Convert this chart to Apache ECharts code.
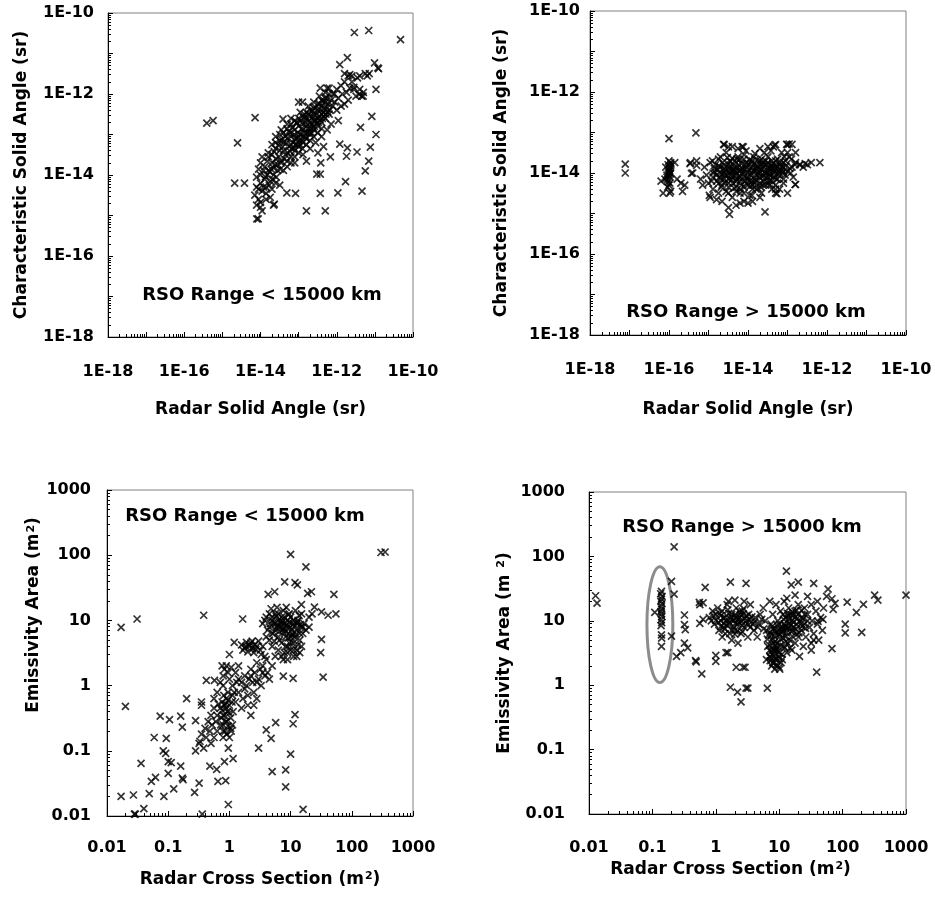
<!DOCTYPE html>
<html><head><meta charset="utf-8">
<script src="https://cdn.jsdelivr.net/npm/echarts@6/dist/echarts.min.js"></script>
<style>html,body{margin:0;padding:0;background:#fff}#c{width:935px;height:897px}</style>
</head><body><div id="c"></div>
<script>
// ---------------- tick labels ----------------
const solidTickLabels = ['1E-18', '1E-16', '1E-14', '1E-12', '1E-10'];
const areaTickLabels = ['0.01', '0.1', '1', '10', '100', '1000'];

// ---------------- titles ----------------
const solidXTitle = 'Radar Solid Angle (sr)';
const solidYTitle = 'Characteristic Solid Angle (sr)';
const areaXTitle = 'Radar Cross Section (m{sup|2})';
const areaYTitleNear = 'Emissivity Area (m{sup|2})';
const areaYTitleFar = 'Emissivity Area (m {sup|2})';
const nearLabel = 'RSO Range < 15000 km';
const farLabel = 'RSO Range > 15000 km';

// ---------------- data: [radar, characteristic] solid angle (sr), range < 15000 km ----------------
const nearSolid = [
[7.1e-15,3.2e-15],[7.9e-15,5e-15],[8.9e-15,2.5e-15],[1e-14,6.3e-15],[7.9e-15,8.9e-15],[1.1e-14,4e-15],[1.3e-14,7.9e-15],[1.4e-14,5e-15],
[1.6e-14,1.3e-14],[1.3e-14,1.6e-14],[1e-14,2e-14],[8.9e-15,1.4e-14],[1.8e-14,7.1e-15],[2e-14,4.5e-15],[2.2e-14,1e-14],[2.5e-14,6.3e-15],
[3.2e-14,5.6e-15],[2.8e-14,1.3e-14],[2e-14,2e-14],[1.6e-14,2.8e-14],[1.1e-14,2.8e-14],[7.9e-15,1.8e-15],[1e-14,1.6e-15],[1.4e-14,2.5e-15],
[1.8e-14,2.8e-15],[1.1e-14,1.3e-15],[1e-14,2.1e-15],
[2.5e-14,2.5e-14],[3.2e-14,4e-14],[3.5e-14,2e-14],[4e-14,6.3e-14],[4.5e-14,3.2e-14],[5e-14,1.6e-14],[5.6e-14,5e-14],[6.3e-14,8.9e-14],
[6.3e-14,2.8e-14],[7.1e-14,6.3e-14],[7.9e-14,1.3e-13],[7.9e-14,4e-14],[8.9e-14,7.9e-14],[1e-13,1.6e-13],[1e-13,5e-14],[1.1e-13,1e-13],
[1.3e-13,1.8e-13],[1.3e-13,6.3e-14],[1.4e-13,1.1e-13],[1.6e-13,2.5e-13],[1.6e-13,7.9e-14],[1.8e-13,1.4e-13],[2e-13,2.8e-13],[2e-13,1e-13],
[2.2e-13,1.8e-13],[2.5e-13,3.2e-13],[2.5e-13,1.3e-13],[2.8e-13,2.2e-13],[3.2e-13,4e-13],[3.2e-13,1.6e-13],[3.5e-13,2.8e-13],[4e-13,5e-13],
[4e-13,2e-13],[4.5e-13,3.5e-13],[5e-13,6.3e-13],[5e-13,2.5e-13],[5.6e-13,4.5e-13],[6.3e-13,3.2e-13],[7.1e-13,7.1e-13],[7.9e-13,5e-13],
[5e-14,1.8e-13],[6.3e-14,2.5e-13],[1.1e-13,3.5e-13],[1.8e-13,5e-13],[3.5e-14,1.3e-13],[2.5e-14,8.9e-14],[2e-14,5.6e-14],[2.5e-13,6.3e-13],
[3.5e-13,8.9e-13],[5e-13,1.1e-12],[7.9e-14,2e-14],[1.3e-13,3.2e-14],[2e-13,4.5e-14],[2.8e-13,6.3e-14],[4e-13,8.9e-14],[5.6e-13,1.3e-13],
[3.2e-13,3.5e-14],[4.5e-13,5e-14],[7.1e-13,1.8e-13],[1.6e-13,2.2e-14],[1e-13,8.9e-14],[1.3e-13,1.3e-13],[1.6e-13,1.6e-13],[2e-13,2e-13],
[2.5e-13,2.2e-13],[7.9e-14,7.9e-14],[6.3e-14,5.6e-14],[5e-14,7.9e-14],[4e-14,4e-14],[3.2e-13,2.5e-13],[4e-13,3.2e-13],[2.2e-13,1.1e-13],
[1.1e-13,5.6e-14],[8.9e-14,2e-13],[1.4e-13,3.2e-13],[3.9e-14,2.4e-13],[1e-13,6.3e-13],[1.26e-13,6.3e-13],[3.7e-13,1.4e-12],[5.6e-13,1.4e-12],
[7.9e-13,1e-12],[1e-12,1.3e-12],[8.9e-13,6.3e-13],[1.1e-12,7.9e-13],[1.3e-12,1.6e-12],[1.4e-12,1e-12],[1.6e-12,2e-12],[1.8e-12,1.1e-12],
[2e-12,7.1e-13],[2.2e-12,1.4e-12],[2.5e-12,2e-12],[2.8e-12,1.3e-12],[1.3e-12,5e-13],[1e-12,4e-13],[1.6e-12,5.6e-13],[6.3e-13,1.4e-12],
[2e-12,2.8e-12],[2.5e-12,2.8e-12],[4e-12,1.3e-12],[4.5e-12,8.9e-13],[5e-12,1.1e-12],[3.5e-12,2.5e-12],[5.6e-12,3.2e-12],[7.1e-12,3.2e-12],
[3.9e-16,1.9e-13],[5.7e-16,2.2e-13],[2.5e-15,6.2e-14],[2.1e-15,6.3e-15],[3.8e-15,6.3e-15],[7.2e-15,2.6e-13],[8e-15,8.3e-16],[8.7e-15,8.3e-16],
[2.9e-12,3.3e-11],[6.9e-12,3.7e-11],[4.7e-11,2.2e-11],[1.9e-12,7.9e-12],[1.2e-12,5.3e-12],[9.8e-12,5.9e-12],[1.2e-11,4.4e-12],[1.25e-11,4.2e-12],
[6.3e-12,2.8e-12],[4e-12,2.8e-12],[1.6e-12,3.2e-12],[2.2e-12,3e-12],[1.07e-11,1.3e-12],[8.3e-12,2.8e-13],[4.2e-12,1.5e-13],[1.07e-11,1e-13],
[7.6e-12,4.9e-14],[6.9e-12,2.2e-14],[5.6e-12,1.26e-14],[4.6e-12,4e-15],[3.4e-12,3.7e-14],[1.9e-12,4.7e-14],[1.8e-12,2.9e-14],[1.2e-12,5.8e-14],
[1.7e-12,6.9e-15],[1.07e-12,3.6e-15],[3.7e-13,1.05e-14],[3e-13,1.05e-14],[3.7e-13,3.5e-15],[5e-13,1.3e-15],[1.6e-13,1.3e-15],[8.3e-14,3.5e-15],
[4.9e-14,3.6e-15],[2.3e-14,1.9e-15],[2.2e-14,1.8e-15],[6.8e-13,2.8e-14],[3.8e-13,2e-14],[3.2e-12,8.9e-13],[3.9e-12,9.8e-13],[4.9e-12,8.9e-13],
[2.8e-12,1.45e-12],[8.7e-13,1e-12],[1.1e-12,2.2e-13]
];
const nearSolidCore = [
[1.6e-14,3.5e-14],[1.5e-14,1e-14],[1.7e-14,5.6e-15],[2e-14,3.2e-14],[1.9e-14,1.4e-14],[2.1e-14,7.9e-15],
[2.5e-14,4.5e-14],[2.4e-14,1.8e-14],[2.6e-14,8.9e-15],[2.5e-14,6.3e-14],[3.2e-14,7.1e-14],[3e-14,2.8e-14],[3.3e-14,1.4e-14],[3.2e-14,1e-13],
[4e-14,1.1e-13],[3.8e-14,5e-14],[4.2e-14,2.5e-14],[4e-14,1.3e-14],[5e-14,1.4e-13],[4.8e-14,6.3e-14],[5.2e-14,3.5e-14],[5e-14,2.2e-14],
[6.3e-14,1.8e-13],[6e-14,1.1e-13],[6.6e-14,4.5e-14],[6.3e-14,2e-14],[7.9e-14,2.2e-13],[7.6e-14,1e-13],[8.3e-14,5.6e-14],[7.9e-14,2.8e-14],
[1e-13,2.5e-13],[9.5e-14,1.1e-13],[1.05e-13,7.1e-14],[1e-13,3.5e-14],[1.26e-13,2.8e-13],[1.2e-13,1.4e-13],[1.3e-13,8.9e-14],[1.26e-13,4.5e-14],
[1.6e-13,3.5e-13],[1.5e-13,2e-13],[1.7e-13,1.1e-13],[1.6e-13,5.6e-14],[2e-13,4e-13],[1.9e-13,2.2e-13],[2.1e-13,1.4e-13],[2e-13,7.1e-14],
[2.5e-13,4.5e-13],[2.4e-13,2.8e-13],[2.6e-13,1.6e-13],[2.5e-13,8.9e-14],[3.2e-13,5.6e-13],[3e-13,3.2e-13],[3.3e-13,2e-13],[3.2e-13,1.1e-13],
[4e-13,7.1e-13],[3.8e-13,4e-13],[4.2e-13,2.5e-13],[4e-13,1.4e-13],[5e-13,7.9e-13],[4.8e-13,4.5e-13],[5.2e-13,3.2e-13],
[6.3e-13,1e-12],[6e-13,5.6e-13],[6.6e-13,4e-13],[1e-14,1e-14],[1.2e-14,5e-15],[8.9e-15,4.5e-15],[1.4e-14,3.5e-15],
[4.5e-14,9e-14],[5.5e-14,1.2e-13],[7e-14,1.5e-13],[9e-14,1.9e-13],[1.15e-13,2.2e-13],[1.4e-13,2.6e-13],[1.8e-13,3.2e-13],[2.3e-13,3.8e-13],
[2.8e-13,4.6e-13],[3.5e-13,5.8e-13],[4.4e-13,6.5e-13],[5.5e-13,8e-13],[6e-14,3.8e-14],[7.5e-14,4.6e-14],[9.5e-14,5.5e-14],[1.2e-13,7e-14],
[1.5e-13,8.5e-14],[1.9e-13,1.15e-13],[2.4e-13,1.5e-13],[3e-13,1.9e-13],[3.7e-13,2.3e-13],[4.6e-13,2.8e-13],[5.8e-13,3.6e-13],[3.5e-14,2.2e-14],
[2.8e-14,1.8e-14],[2.2e-14,1.5e-14],[1.75e-14,1.2e-14],[1.35e-14,9e-15],[1.2e-14,1.3e-14],[1.5e-14,2.2e-14],[2.3e-14,3.8e-14],[2.9e-14,5.5e-14],
[3.6e-14,7.5e-14]
];

// ---------------- data: solid angle, range > 15000 km ----------------
const farSolid = [
[7.9e-16,1.4e-14],[8.9e-16,8.9e-15],[1e-15,5.6e-15],[1.1e-15,1.8e-14],[1.3e-15,7.9e-15],[1.3e-15,4e-15],[1.4e-15,1.3e-14],[1.6e-15,6.3e-15],
[1.8e-15,2.2e-14],[1.8e-15,3.2e-15],[2e-15,1e-14],[2.2e-15,5e-15],[2.5e-15,1.6e-14],[2.5e-15,7.1e-15],[2.8e-15,3.2e-14],[2.8e-15,3.5e-15],
[3.2e-15,1.1e-14],[3.2e-15,5.6e-15],[3.5e-15,2e-14],[4e-15,7.9e-15],[4e-15,2.5e-15],[4.5e-15,1.4e-14],[5e-15,4.5e-15],[5e-15,1e-14],
[5.6e-15,2.5e-14],[6.3e-15,6.3e-15],[6.3e-15,3.2e-15],[7.1e-15,1.3e-14],[7.9e-15,7.9e-15],[7.9e-15,2e-15],[8.9e-15,1.8e-14],[1e-14,5e-15],
[1e-14,1e-14],[1.1e-14,2.8e-15],[1.3e-14,1.4e-14],[1.3e-14,6.3e-15],[1.4e-14,2.5e-14],[1.6e-14,8.9e-15],[1.6e-14,4e-15],[1.8e-14,1.3e-14],
[2e-14,5.6e-15],[2e-14,2e-14],[2.2e-14,3.2e-15],[2.5e-14,8.9e-15],[2.5e-14,1.4e-14],[2.8e-14,5e-15],[3.2e-14,1.8e-14],[3.2e-14,7.9e-15],
[3.5e-14,1.1e-14],[4e-14,2e-14],[4e-14,6.3e-15],[4.5e-14,1e-14],[5e-14,1.6e-14],[5e-14,5e-15],[5.6e-14,2.2e-14],[6.3e-14,1e-14],
[7.1e-14,1.4e-14],[7.9e-14,7.1e-15],[8.9e-14,2e-14],[1e-13,1.1e-14],[1.1e-13,2.5e-14],[1.3e-13,1.4e-14],[1.4e-13,7.9e-15],[1.6e-13,1.8e-14],
[2e-13,1.6e-14],[2.5e-13,1.4e-14],[3.2e-13,1.6e-14],[4e-13,1.8e-14],
[2.5e-15,1e-14],[4e-15,1.1e-14],[6.3e-15,1.1e-14],[1e-14,7.1e-15],[1.6e-14,6.3e-15],[5e-15,6.3e-15],[7.9e-15,4.5e-15],[1.3e-14,4e-15],
[3.2e-15,4.5e-15],[2e-15,7.1e-15],[2e-14,1e-14],[2.5e-14,6.3e-15],
[2.5e-15,5e-14],[4e-15,4.5e-14],[5.6e-15,4e-14],[8.9e-15,3.5e-14],[7.1e-15,4.5e-14],[3.2e-14,4.5e-14],[5e-14,5e-14],[1e-13,5e-14],
[1.1e-13,5.2e-14],[7.1e-14,3.2e-14],[1e-13,3.2e-14],[1.6e-13,3.2e-14],
[3.2e-15,1.4e-15],[3.4e-15,9.5e-16],[5e-15,1.6e-15],[6.3e-15,1.8e-15],[1e-14,1.8e-15],[1.3e-14,2e-15],[2.7e-14,1.1e-15],[1.6e-15,2.2e-15],
[1.1e-15,2.5e-15],[2.2e-15,2e-15],[4e-14,4e-15],[5e-14,3.2e-15],[7.9e-14,5.6e-15],[1e-13,3.2e-15],[1.6e-13,5.2e-15],[6.3e-14,4e-15],
[5e-16,2e-14],[3.5e-16,1.8e-14],[4e-16,1e-14],[4.8e-16,9.8e-14],[6.3e-16,7.1e-15],[7.1e-16,5e-15],
[6.3e-17,6.3e-15],[7.9e-17,7.1e-15],[8.9e-17,8.9e-15],[1e-16,1.05e-14],[1.05e-16,1.3e-14],[9.5e-17,1.6e-14],[1.1e-16,1.8e-14],[8.3e-17,1.4e-14],
[1.05e-16,5.6e-15],[9.3e-17,4.5e-15],[7.1e-17,3.2e-15],[1.05e-16,3.2e-15],[1.1e-16,3.5e-15],[1.4e-16,1.8e-14],[1.6e-16,7.1e-15],[2e-16,5.6e-15],
[2.5e-16,5e-15],[2.2e-16,3.5e-15],[1e-16,7.1e-14],[8.9e-17,7.9e-15],[1.1e-16,1e-14],[1e-16,2e-14],
[7.8e-18,1.66e-14],[7.8e-18,1e-14],
[9.5e-14,5.1e-14],[1.3e-13,5.1e-14],[4.4e-14,4.4e-14],[4.7e-14,4.9e-14],[6.6e-13,1.8e-14],[2.8e-13,1.7e-14],[2.1e-13,1.6e-14],[1.55e-13,1.6e-14],
[1.55e-13,5.2e-15],[8.7e-14,8.9e-15],[5.4e-14,3.1e-15],[7.6e-15,4.4e-14],[2.4e-15,5.1e-14],[3.2e-15,4.4e-14],[1.05e-15,2.8e-15],[5e-16,1.55e-14],
[3.4e-16,1.7e-14],[3.7e-16,9.8e-15],[4e-14,1.26e-14],[6.3e-14,1.8e-14],[7.9e-14,1.1e-14],[1.26e-13,2.2e-14],[5.6e-14,7.1e-15],[3.5e-14,5e-15]
];
const farSolidCore = [
[1.26e-15,2e-14],[1.3e-15,1e-14],[1.2e-15,6.3e-15],[2e-15,1.4e-14],[1.9e-15,7.9e-15],[2.1e-15,4.5e-15],[2e-15,2.5e-14],
[3.2e-15,1.6e-14],[3e-15,8.9e-15],[3.3e-15,7.1e-15],[3.2e-15,3.2e-15],[5e-15,1.8e-14],[4.8e-15,1.1e-14],[5.2e-15,7.1e-15],[5e-15,3.5e-15],
[7.9e-15,2.2e-14],[7.6e-15,1.1e-14],[8.3e-15,6.3e-15],[7.9e-15,3.2e-15],[1.26e-14,2e-14],[1.2e-14,1e-14],[1.3e-14,5e-15],[1.26e-14,2.8e-15],
[2e-14,1.6e-14],[1.9e-14,7.9e-15],[2.1e-14,4.5e-15],[2e-14,2.5e-15],[3.2e-14,1.4e-14],[3e-14,1e-14],[3.3e-14,5.6e-15],[3.2e-14,2.5e-14],
[5e-14,2e-14],[4.8e-14,1.1e-14],[5.2e-14,7.1e-15],[5e-14,4e-15],[7.9e-14,1.8e-14],[7.6e-14,1e-14],[8.3e-14,2.5e-14],
[1e-16,1.2e-14],[1.05e-16,8e-15],[9.5e-17,6e-15],[1.1e-16,1.5e-14],[1e-16,9e-15],
[1.5e-15,1.6e-14],[1.6e-15,9e-15],[1.7e-15,1.2e-14],[2.3e-15,1.8e-14],[2.4e-15,1.3e-14],[2.6e-15,6e-15],[3.6e-15,1.5e-14],[3.8e-15,9.5e-15],
[4.2e-15,1.25e-14],[4.3e-15,5.5e-15],[5.8e-15,1.6e-14],[6e-15,8.5e-15],[6.5e-15,1.2e-14],[6.8e-15,5e-15],[9e-15,1.5e-14],[9.5e-15,8e-15],
[1.05e-14,1.2e-14],[1.1e-14,6.5e-15],[1.45e-14,1.7e-14],[1.5e-14,1.1e-14],[1.55e-14,7e-15],[1.7e-14,1.5e-14],[2.2e-14,1.2e-14],[2.3e-14,8e-15],
[2.4e-14,1.8e-14],[2.7e-14,1.05e-14],[2.9e-14,1.6e-14],[3.6e-14,1.3e-14],[3.8e-14,8.5e-15],[4.2e-14,1.7e-14],[4.5e-14,1.2e-14],[5.5e-14,1.4e-14],
[5.8e-14,9e-15],[6.5e-14,1.6e-14],[7e-14,1.2e-14],[9e-14,1.5e-14],[1.15e-13,1.3e-14],[1.2e-13,1e-14],[2.2e-14,2.2e-14],[1.1e-14,2.1e-14],
[6e-15,2.1e-14],[4e-15,2.3e-14],[3e-15,2.4e-14],[1.5e-14,3e-14],[8e-15,2.8e-14],[2.6e-14,3.2e-14],[3.8e-14,3.5e-14],[2e-14,4e-14],
[1.02e-16,1.1e-14],[9.8e-17,1.35e-14],[1.08e-16,9.5e-15],[9.2e-17,7e-15],[1.12e-16,1.65e-14],[1e-16,5e-15],
[1.4e-15,1.1e-14],[1.8e-15,1.5e-14],[2.2e-15,9.5e-15],[2.7e-15,1.2e-14],[3.4e-15,1.3e-14],[3.9e-15,6.8e-15],[4.6e-15,8.8e-15],[5.4e-15,1.35e-14],
[6.1e-15,7.5e-15],[7.2e-15,9.5e-15],[8.5e-15,1.25e-14],[9.8e-15,1.6e-14],[1.15e-14,9e-15],[1.35e-14,1.15e-14],[1.6e-14,1.3e-14],[1.85e-14,9.5e-15],
[2.1e-14,1.25e-14],[2.5e-14,1.6e-14],[2.8e-14,7.5e-15],[3.4e-14,9.2e-15],[4e-14,1.5e-14],[4.8e-14,1.3e-14],[6e-14,1.1e-14],[7.5e-14,1.4e-14],
[3.6e-15,1.9e-14],[5.2e-15,2.2e-14],[7e-15,1.7e-14],[1.2e-14,1.75e-14],[1.7e-14,2.1e-14],[2.8e-14,2e-14],[4.5e-15,4.2e-15],[6.5e-15,4e-15],
[9e-15,5.5e-15],[1.15e-14,4.8e-15],[1.5e-14,5.8e-15],[1.8e-14,4.2e-15],[2.4e-14,5e-15],[3.5e-14,6.5e-15],[4.5e-14,8e-15],[1.8e-15,5.5e-15],
[2.7e-15,8.5e-15]
];

// ---------------- data: [radar cross section, emissivity area] (m2), range < 15000 km ----------------
const nearArea = [
[0.017,7.8],[0.020,0.48],[0.031,10.5],[0.017,0.020],[0.027,0.021],[0.028,0.0107],[0.029,0.0107],[0.040,0.013],[0.036,0.064],[0.049,0.022],
[0.053,0.034],[0.062,0.039],[0.059,0.16],[0.074,0.34],[0.083,0.10],[0.091,0.091],[0.093,0.155],[0.085,0.020],[0.1,0.068],[0.112,0.066],
[0.1,0.045],[0.105,0.30],[0.123,0.026],[0.16,0.34],[0.17,0.23],[0.16,0.058],[0.17,0.038],[0.175,0.036],[0.20,0.63],[0.27,0.023],
[0.28,0.29],[0.32,0.032],[0.36,0.0107],[0.38,12],[0.35,0.56],[0.35,0.50],[0.42,1.2],[0.57,1.2],[0.48,0.058],[0.62,0.052],
[0.65,0.034],[0.83,0.068],[0.87,0.035],[0.96,0.015],[0.96,0.11],[1.15,0.076],[1.0,3.0],[1.2,4.6],[1.65,10.5],[3.0,0.11],
[4.0,0.21],[4.8,0.155],[5.0,0.048],[5.7,0.27],[8.3,0.028],[8.3,0.051],[10,0.089],[11,0.26],[11.8,0.36],[11,1.29],
[16,0.0126],[10,103],[17.8,66],[8,39],[4.3,25],[5.5,27.5],[11.8,38],[12.9,35],[21.9,27.5],[19,26],
[32,5.1],[31,3.2],[34,1.35],[51,25],[55,12.6],[300,110],[350,112],[41,12],[24.5,16],[32,13.5],[15,17.4],[7.6,1.4],
[0.71,0.45],[0.76,0.56],[0.79,0.35],[0.83,0.5],[0.87,0.28],[0.89,0.63],[0.93,0.4],[0.95,0.24],[1.0,0.5],[1.05,0.32],
[0.79,0.25],[0.74,0.32],[0.85,0.2],[0.91,0.18],[1.07,0.2],[1.1,0.56],[0.81,0.71],[1.15,0.4],[0.66,0.52],[0.63,0.35],
[1.0,0.16],[0.79,0.16],[1.12,0.25],[0.89,0.45],[0.95,0.79],
[0.28,0.1],[0.32,0.13],[0.33,0.14],[0.35,0.18],[0.38,0.11],[0.4,0.22],[0.42,0.16],[0.45,0.28],[0.48,0.2],[0.5,0.35],
[0.52,0.25],[0.56,0.45],[0.6,0.28],[0.5,0.13],[0.56,0.16],[0.63,0.2],
[0.63,0.79],[0.71,1.12],[0.79,1.41],[0.83,1.78],[0.89,2.0],[0.95,1.58],[1.0,1.26],[1.07,1.9],[0.76,2.0],[1.12,1.0],
[1.2,0.79],[1.26,1.58],[1.32,1.12],[0.79,1.0],[0.56,0.63],
[1.26,0.56],[1.41,0.79],[1.58,1.12],[1.66,0.63],[1.78,1.41],[1.9,1.0],[2.0,0.71],[2.1,1.26],[2.24,1.78],[2.4,1.12],
[2.5,0.79],[2.6,1.58],[2.8,2.24],[3.0,1.26],[3.2,1.78],[3.3,1.0],[3.5,2.0],[3.8,1.41],[4.0,2.5],[4.2,1.58],
[4.5,1.26],[5.0,2.0],[1.58,0.45],[2.0,0.5],[2.5,0.5],[2.24,0.35],[1.41,2.0],[2.8,0.63],
[1.58,4.2],[1.78,3.8],[1.9,4.6],[2.1,4.0],[2.24,4.5],[2.4,3.7],[2.6,4.3],[2.8,4.0],[3.2,3.5],[3.5,4.0],
[3.0,4.8],[1.66,3.5],[2.0,3.3],[2.5,3.2],[3.3,3.0],[3.8,2.8],
[3.5,8.9],[4.0,11.2],[4.2,7.1],[4.5,12.6],[4.7,8.9],[5.0,10],[5.2,6.3],[5.6,12.6],[5.9,7.9],[6.3,10],
[6.6,5.0],[7.1,11.2],[7.4,7.1],[7.9,8.9],[8.3,4.0],[8.9,10],[9.3,6.3],[10,7.9],[10.5,4.5],[11.2,8.9],
[11.7,5.6],[12.6,7.1],[13.2,10],[14.1,5.0],[14.8,7.9],[15.8,6.3],[16.6,8.9],[17.8,7.1],[7.9,3.2],[8.9,2.5],
[10,3.5],[11.2,2.8],[12.6,3.5],[14.1,3.2],[7.1,2.8],[6.3,3.5],[5.6,2.8],[5.0,4.0],[4.5,5.0],[4.0,5.6],
[3.8,10],[7.6,14.1],[9.5,12.6],[12,14.1],[15.1,12.6],[6.0,15.8],[4.8,15.1],[8.5,15.8],[20,11.2],[22.4,12.6],
[20,7.9],[8.3,5.6],[9.5,4.5],[10.7,6.3],[6.8,7.9],[5.4,4.8],[13.2,4.2],[15.1,4.0]
];
const nearAreaCore = [
[4.5,7.9],[5,6.3],[5.6,8.9],[6.3,5.6],[7.1,8.9],[7.9,6.3],[8.9,7.9],[10,5.6],[11.2,10],[12.6,8.9],[14.1,6.3],[15.8,7.9],
[7.9,11.2],[6.3,12.6],[5,11.2],[7.1,4.5],[8.9,4],[11.2,4.5],[10,11.2],[5.6,7.1],[8.9,3.2],[12.6,2.8],[7.6,2.5],[11.2,3.5],
[0.83,0.35],[0.91,0.28],[0.76,0.42],[1.0,0.38],[0.87,0.52],[0.95,0.6],[0.79,0.2],[1.05,0.22],[0.72,0.25],
[2.15,4.2],[2.7,3.6],[1.86,4],[2.35,4.8],
[1.41,1.26],[1.78,0.89],[2.24,1.41],[2.8,1.12],[3.5,1.58],[1.12,0.71],
[5.3,9.2],[6.1,8.4],[6.9,9.8],[7.7,7.5],[8.6,8.7],[9.6,9.4],[10.4,7.2],[11.6,8.1],[12.9,9.5],[14.5,8.6],
[6.5,6.8],[8.1,6.9],[9.1,5.4],[10.8,5.9],[12.3,6.1],[7.4,9.6],[5.8,11.6],[13.8,11.8],[9.2,12.2]
];

// ---------------- data: radar cross section vs emissivity area, range > 15000 km ----------------
const farArea = [
[0.0127,24.5],[0.0134,18.8],
[0.139,28.6],[0.135,26.3],[0.142,23.9],[0.139,21.7],[0.136,20],[0.141,18.4],[0.138,16.7],[0.14,15.2],[0.137,14],[0.139,12.8],
[0.141,11.7],[0.138,10.4],[0.14,9.4],[0.137,8.4],[0.139,6.05],[0.14,5.4],[0.139,4.0],[0.109,13.5],
[0.22,141],[0.2,41],[0.22,26],[0.2,5.8],[0.24,2.8],[0.28,3.2],[0.32,12.3],[0.32,8.7],[0.33,7.3],[0.36,3.8],
[0.32,4.5],[0.48,2.4],[0.49,2.3],[0.6,1.5],[0.56,9.1],[0.56,17.8],[0.55,19.3],[0.68,33],[1.0,2.9],[1.0,2.35],
[1.45,3.2],[1.55,3.2],[1.7,0.93],[2.2,0.78],[2.5,0.55],[2.1,1.9],[2.7,1.9],[2.9,1.9],[3.0,0.9],[3.2,0.9],
[6.5,0.9],[1.7,40],[3.0,38],[13,59],[20,40],[15.5,36],[35,38],[59,31],[39,1.6],[68,3.7],
[110,8.9],[110,6.5],[118,19.5],[165,13.5],[200,6.6],[213,18],[320,25],[360,21],[1000,25],[71,15],
[76,18.6],[68,22],[56,24],[49,10.5],[41,9.8],[35,5.0],[32,3.5],[11.5,6.8],[10.2,1.78],[0.63,19],[0.63,10.5],
[0.79,11.2],[0.89,14.1],[0.95,8.9],[1.0,12.6],[1.07,15.8],[1.12,7.1],[1.2,10],[1.26,14.1],[1.32,7.9],[1.41,11.2],
[1.51,17.8],[1.58,8.9],[1.66,6.3],[1.78,12.6],[1.9,10],[2.0,7.1],[2.1,15.8],[2.24,8.9],[2.4,11.2],[2.5,6.3],
[2.6,14.1],[2.8,7.9],[3.0,10],[3.2,5.6],[3.3,12.6],[3.5,7.9],[3.8,8.9],[4.0,7.1],[4.2,11.2],[4.5,5.6],
[4.8,8.9],[5.0,12.6],[1.58,20],[2.0,21],[2.8,20],[1.26,5.6],[1.78,5.0],[2.24,4.5],[1.41,6.3],[3.5,17.8],
[5.6,15.8],[6.0,10],[6.3,7.1],[6.6,4.0],[7.1,20],[7.1,2.8],[7.4,8.9],[7.6,5.0],[7.9,2.24],[7.9,12.6],
[8.3,3.5],[8.5,7.1],[8.9,2.5],[8.9,17.8],[9.3,4.5],[9.5,10],[10,3.2],[10,6.3],[10.5,14.1],[10.7,2.24],
[11.2,7.9],[11.7,4.0],[12,20],[12.6,5.6],[12.6,11.2],[13.2,3.2],[14.1,7.9],[14.1,15.8],[14.8,5.0],[15.8,10],
[15.8,3.5],[16.6,7.1],[17.8,14.1],[17.8,4.5],[19,8.9],[20,5.6],[20,17.8],[20.9,2.8],[22.4,11.2],[22.4,7.1],
[24,4.0],[25,15.8],[25,8.9],[26.3,5.6],[28,12.6],[30,7.9],[32,17.8],[32,4.5],[33,10],[35,6.3],
[38,14.1],[40,8.9],[42,5.0],[45,11.2],[48,7.1],[50,15.8],[8.3,2.8],[9.3,2.0],[7.1,3.5],[8.9,3.5],
[11.2,2.5],[6.3,2.5],[10,8.9],[12.6,7.9],[15.1,12.6],[20,12.6],[13.2,22.4],[17.8,25],[28,24],[40,20],
[7.6,2.0],[8.5,1.78],[7.2,2.4],[10,1.9]
];
const farAreaCore = [
[1.1,9.5],[1.3,11],[1.5,8.5],[1.7,10.5],[1.9,8],[2.1,11.5],[2.3,9.5],[2.6,8.5],[2.9,11],[3.1,9],[1.2,12],[1.6,13],[2.0,12.5],[2.7,12.8],
[1.4,7.5],[1.8,7.2],[2.2,7],[2.6,6.8],[3.4,10.5],[3.7,11.5],
[7.5,6],[8,7.5],[8.8,6.5],[9.6,7.2],[10.5,5.2],[11,6.8],[12,9],[13,6.5],[14,10.5],[15,8.5],[16,5.8],[17,9.5],[18,11.5],[19,6.2],
[21,9.8],[23,8.2],[24,10.8],[8.2,4.5],[9,3.8],[7.8,3],[8.6,2.6],[9.8,2.8],[10.5,4.2],[12.2,3.8],[13.8,4.4],[7,4.2],[6.8,6],
[11.5,12.5],[13.5,13],[16.5,12],
[6.5,5.2],[7.2,6.6],[7.8,8.2],[8.4,5.8],[9.2,8.6],[9.9,6],[10.8,7.5],[11.6,5.4],[12.4,8.4],[13.4,7.2],[14.5,9.2],[15.5,6.8],
[16.8,8],[18.5,7.4],[20.5,6.5],[22,9],[26,7.6],[28,10],[7.4,3.3],[8,3.6],[8.8,4.2],[9.5,3.4],[10.2,2.6],[11,3],
[7.3,2.7],[8.1,2.2],[9.1,2.1],[8.6,4.8],[12.8,4.8],[14.8,3.8],[11.8,10.5],[13.9,12],[16,13.8],[18.8,14.5],[22.5,14.5],[25.5,12.5],[19.5,11],
[0.85,10],[0.92,12],[1.15,13],[1.35,9],[1.45,10.2],[1.65,9.5],[1.75,11.5],[2.05,9.2],[2.25,10.5],[2.45,12.5],[2.55,9.8],[3.05,12],
[3.3,8.6],[2.0,6.2],[1.55,14.8],[2.35,14],[2.75,15.5],[4.1,9.6],[4.6,8],[5.3,10.5],[5.7,7.5],[1.2,8.2],[1.0,10.2]
];

// ellipse drawn around the 0.14 m2 column: [xMin, xMax, yMin, yMax]
const ellipseBox = [0.082, 0.21, 1.1, 69];

// ---------------- rendering ----------------
const FONT = 'DejaVu Sans';
const CROSS = 'path://M0 0L10 10M10 0L0 10';

function tickLabel(labels) {
  return function (v) {
    for (const l of labels) {
      if (Math.abs(Math.log10(Number(l)) - Math.log10(v)) < 1e-6) return l;
    }
    return '';
  };
}
const richSup = { sup: { fontFamily: FONT, fontWeight: 'bold', fontSize: 11, color: '#000', verticalAlign: 'top', padding: [0, 0, 0, 1] } };

function axis(o) {
  return {
    type: 'log', logBase: 10, gridIndex: o.grid, min: o.min, max: o.max, splitNumber: o.split,
    name: o.name, nameLocation: 'middle', nameGap: o.nameGap, nameRotate: o.rot || 0,
    nameTextStyle: { fontFamily: FONT, fontWeight: 'bold', fontSize: 17, color: '#000', padding: o.pad || 0, rich: richSup },
    axisLine: { show: true, onZero: false, lineStyle: { color: '#000', width: 1 } },
    axisTick: { show: true, inside: true, length: 5, lineStyle: { color: '#000', width: 1 } },
    minorTick: { show: true, splitNumber: 9, length: 3, lineStyle: { color: '#000', width: 1 } },
    splitLine: { show: false }, minorSplitLine: { show: false },
    axisLabel: { fontFamily: FONT, fontWeight: 'bold', fontSize: 16, color: '#000', margin: o.margin,
      formatter: tickLabel(o.labels), showMinLabel: true, showMaxLabel: true, hideOverlap: false }
  };
}

const grids = [
  { left: 108, top: 13, width: 305, height: 324 },
  { left: 590, top: 11, width: 316, height: 324 },
  { left: 107, top: 490, width: 306, height: 326 },
  { left: 589, top: 492, width: 317, height: 322 }
].map(g => Object.assign({ show: true, borderColor: '#808080', borderWidth: 1, backgroundColor: 'transparent' }, g));

const xAxes = [
  axis({ grid: 0, min: 1e-18, max: 1e-10, split: 8, name: solidXTitle, nameGap: 64, margin: 27, labels: solidTickLabels }),
  axis({ grid: 1, min: 1e-18, max: 1e-10, split: 8, name: solidXTitle, nameGap: 66, margin: 27, labels: solidTickLabels }),
  axis({ grid: 2, min: 0.01, max: 1000, split: 5, name: areaXTitle, nameGap: 55, margin: 24, labels: areaTickLabels }),
  axis({ grid: 3, min: 0.01, max: 1000, split: 5, name: areaXTitle, nameGap: 47, margin: 26, labels: areaTickLabels, pad: [0, 34, 0, 0] })
];
const yAxes = [
  axis({ grid: 0, min: 1e-18, max: 1e-10, split: 8, name: solidYTitle, nameGap: 78, rot: 90, margin: 14, labels: solidTickLabels }),
  axis({ grid: 1, min: 1e-18, max: 1e-10, split: 8, name: solidYTitle, nameGap: 80, rot: 90, margin: 10, labels: solidTickLabels }),
  axis({ grid: 2, min: 0.01, max: 1000, split: 5, name: areaYTitleNear, nameGap: 63, rot: 90, margin: 16, labels: areaTickLabels, pad: [0, 0, 0, 76] }),
  axis({ grid: 3, min: 0.01, max: 1000, split: 5, name: areaYTitleFar, nameGap: 76, rot: 90, margin: 24, labels: areaTickLabels })
];

function scatter(i, data) {
  return {
    type: 'scatter', xAxisIndex: i, yAxisIndex: i, data: data, symbol: CROSS, symbolSize: 7,
    itemStyle: { color: 'rgba(0,0,0,0)', borderColor: '#000', borderWidth: 1.7 },
    silent: true, animation: false, emphasis: { disabled: true }
  };
}

const annotations = [
  { text: nearLabel, x: 262, y: 295 },
  { text: farLabel, x: 746, y: 312 },
  { text: nearLabel, x: 245, y: 516 },
  { text: farLabel, x: 742, y: 527 }
];

const chart = echarts.init(document.getElementById('c'), null, { renderer: 'canvas' });
chart.setOption({
  backgroundColor: '#fff',
  animation: false,
  grid: grids,
  xAxis: xAxes,
  yAxis: yAxes,
  series: [
    scatter(0, nearSolid.concat(nearSolidCore)),
    scatter(1, farSolid.concat(farSolidCore)),
    scatter(2, nearArea.concat(nearAreaCore)),
    scatter(3, farArea.concat(farAreaCore)),
    {
      type: 'custom', xAxisIndex: 3, yAxisIndex: 3, silent: true, animation: false,
      data: [ellipseBox], encode: { x: [0, 1], y: [2, 3] },
      renderItem: function (params, api) {
        const p1 = api.coord([api.value(0), api.value(2)]);
        const p2 = api.coord([api.value(1), api.value(3)]);
        return {
          type: 'ellipse',
          shape: { cx: (p1[0] + p2[0]) / 2, cy: (p1[1] + p2[1]) / 2, rx: Math.abs(p2[0] - p1[0]) / 2, ry: Math.abs(p2[1] - p1[1]) / 2 },
          style: { fill: 'none', stroke: '#8c8c8c', lineWidth: 3 }
        };
      }
    }
  ],
  graphic: annotations.map(a => ({
    type: 'text', x: a.x, y: a.y, silent: true,
    style: { text: a.text, fontFamily: FONT, fontWeight: 'bold', fontSize: 18, fill: '#000', textAlign: 'center', textVerticalAlign: 'middle' }
  }))
});
</script>
</body></html>
